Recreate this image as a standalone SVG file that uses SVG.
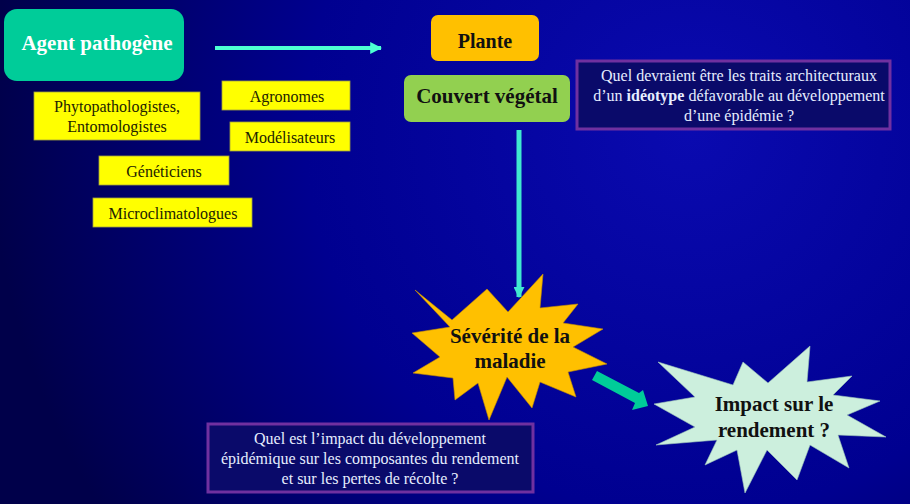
<svg xmlns="http://www.w3.org/2000/svg" width="910" height="504" viewBox="0 0 910 504" font-family="'Liberation Serif', serif">
<defs>
<radialGradient id="bg" cx="690" cy="130" r="700" gradientUnits="userSpaceOnUse">
<stop offset="0" stop-color="#0a0ab0"/>
<stop offset="0.55" stop-color="#000090"/>
<stop offset="1" stop-color="#00004a"/>
</radialGradient>
<marker id="ah" viewBox="0 0 10 10" refX="9" refY="5" markerWidth="3" markerHeight="3" orient="auto" markerUnits="strokeWidth">
<path d="M0,0 L10,5 L0,10 Z" fill="#4dffd2"/>
</marker>
<marker id="ah2" viewBox="0 0 10 10" refX="9" refY="5" markerWidth="2.2" markerHeight="2.2" orient="auto" markerUnits="strokeWidth">
<path d="M0,0 L10,5 L0,10 Z" fill="#40e8d0"/>
</marker>
</defs>
<style>
text{font-family:'Liberation Serif','Times New Roman',serif;text-anchor:middle}
.big{font-size:21px;font-weight:bold;fill:#111}
.yb{fill:#ffff00;stroke:#a0a040;stroke-width:0.8}
.yt{font-size:16px;fill:#222200}
.qb{fill:#0a0a6a;stroke:#7030a0;stroke-width:3}
.qt{font-size:16px;fill:#e6eeff}
</style>
<rect width="910" height="504" fill="url(#bg)"/>
<g id="connectors">
<line x1="215" y1="48" x2="381" y2="48" stroke="#4dffd2" stroke-width="4" marker-end="url(#ah)"/>
<line x1="519" y1="130" x2="519" y2="297" stroke="#40e8d0" stroke-width="5" marker-end="url(#ah2)"/>
<path d="M592,380 L597,371 L639,393 L643,390 L648,406 L632,410 L635,403 Z" fill="#00cc99"/>
</g>
<g id="agent">
<rect x="4" y="9" width="180" height="72" rx="13" fill="#00cc99"/>
<text x="97" y="50" class="big" style="fill:#fff">Agent pathogène</text>
</g>
<g id="plante">
<rect x="431" y="15" width="108" height="46" rx="7" fill="#ffc000"/>
<text x="485" y="48" class="big" style="font-size:20px">Plante</text>
</g>
<g id="couvert">
<rect x="404" y="75" width="166" height="47" rx="7" fill="#92d050"/>
<text x="487" y="103" class="big">Couvert végétal</text>
</g>
<g id="question1">
<rect x="577" y="61" width="313" height="68" class="qb"/>
<text class="qt" x="739" y="81">Quel devraient être les traits architecturaux</text>
<text class="qt" x="739" y="101">d’un <tspan font-weight="bold">idéotype</tspan> défavorable au développement</text>
<text class="qt" x="739" y="121">d’une épidémie ?</text>
</g>
<g id="phyto">
<rect x="34" y="92" width="166" height="48" class="yb"/>
<text class="yt" x="117" y="112">Phytopathologistes,</text>
<text class="yt" x="117" y="132">Entomologistes</text>
</g>
<g id="agronomes">
<rect x="222" y="81" width="128" height="29" class="yb"/>
<text class="yt" x="287" y="102">Agronomes</text>
</g>
<g id="modelisateurs">
<rect x="230" y="122" width="120" height="29" class="yb"/>
<text class="yt" x="290" y="143">Modélisateurs</text>
</g>
<g id="geneticiens">
<rect x="99" y="156" width="130" height="29" class="yb"/>
<text class="yt" x="164" y="177">Généticiens</text>
</g>
<g id="microclimatologues">
<rect x="93" y="198" width="159" height="29" class="yb"/>
<text class="yt" x="173" y="219">Microclimatologues</text>
</g>
<g id="severite">
<polygon points="415,290 452,320 487,289 508,312 543,274 540,308 578,304 563,323 603,329 573,347 607,364 568,372 576,397 540,382 532,408 507,377 489,420 478,383 455,400 453,378 413,373 440,357 412,333 450,327" fill="#ffc000" stroke="#c89000" stroke-width="0.6"/>
<text x="510" y="343" class="big">Sévérité de la</text>
<text x="510" y="368" class="big">maladie</text>
</g>
<g id="impact">
<polygon points="658,362 733,385 743,362 768,383 810,346 807,382 852,376 833,395 880,401 847,415 886,437 838,435 849,468 810,445 797,480 767,450 745,493 737,450 705,465 717,440 656,445 695,427 654,404 695,397" fill="#ccefdd" stroke="#a0c8b8" stroke-width="0.6"/>
<text x="774" y="411" class="big">Impact sur le</text>
<text x="774" y="437" class="big">rendement ?</text>
</g>
<g id="question2">
<rect x="208" y="424" width="325" height="68" class="qb"/>
<text class="qt" x="370" y="444">Quel est l’impact du développement</text>
<text class="qt" x="370" y="464">épidémique sur les composantes du rendement</text>
<text class="qt" x="370" y="484">et sur les pertes de récolte ?</text>
</g>
</svg>
